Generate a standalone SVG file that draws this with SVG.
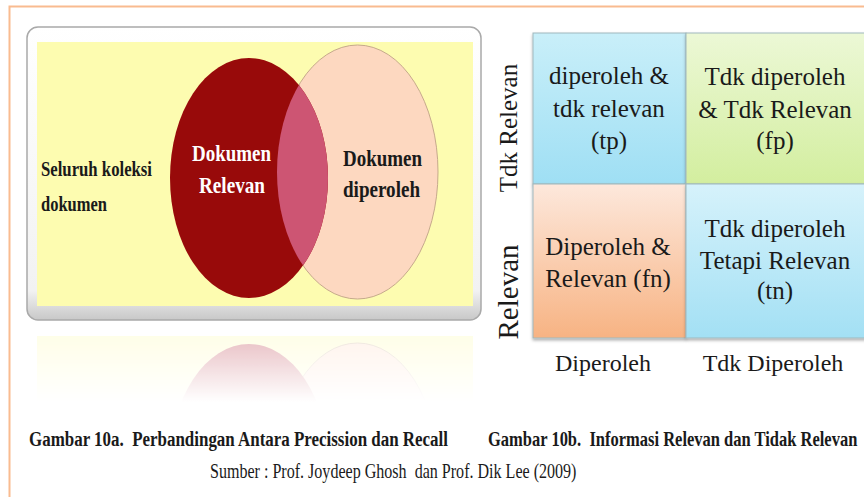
<svg xmlns="http://www.w3.org/2000/svg" width="864" height="497" viewBox="0 0 864 497">
<style>
.serif{font-family:"Liberation Serif","Times New Roman",serif;fill:#1a1a1a}
.cell{font-size:25px;text-anchor:middle}
.venn{font-weight:bold;font-size:22px}
.cap{font-weight:bold;font-size:22px;white-space:pre}
.cellbox{stroke:#9fb8bd;stroke-width:1}
</style>
<defs>
<linearGradient id="gTL" x1="0" y1="0" x2="0" y2="1"><stop offset="0" stop-color="#c9eff9"/><stop offset="1" stop-color="#9fdff4"/></linearGradient>
<linearGradient id="gTR" x1="0" y1="0" x2="0" y2="1"><stop offset="0" stop-color="#ecf8d6"/><stop offset="1" stop-color="#d3ee9f"/></linearGradient>
<linearGradient id="gBL" x1="0" y1="0" x2="0" y2="1"><stop offset="0" stop-color="#fde8dc"/><stop offset="1" stop-color="#f7b383"/></linearGradient>
<linearGradient id="gBR" x1="0" y1="0" x2="0" y2="1"><stop offset="0" stop-color="#d6f2fb"/><stop offset="1" stop-color="#a3e0f4"/></linearGradient>
<linearGradient id="gBox" x1="0" y1="0" x2="0" y2="1"><stop offset="0" stop-color="#ffffff"/><stop offset="0.9" stop-color="#f2f2f2"/><stop offset="1" stop-color="#c8c8c8"/></linearGradient>
<linearGradient id="gFade" x1="0" y1="0" x2="0" y2="1"><stop offset="0" stop-color="#fff" stop-opacity="0.35"/><stop offset="1" stop-color="#fff" stop-opacity="0"/></linearGradient>
<mask id="mFade" maskUnits="userSpaceOnUse" x="0" y="320" width="500" height="90"><rect x="0" y="322" width="500" height="80" fill="url(#gFade)"/></mask>
<clipPath id="cRed"><ellipse cx="249" cy="178" rx="79" ry="120"/></clipPath>
<filter id="sh" x="-5%" y="-5%" width="110%" height="115%"><feDropShadow dx="0" dy="2" stdDeviation="1.5" flood-color="#000" flood-opacity="0.3"/></filter>
</defs>
<rect width="864" height="497" fill="#ffffff"/>
<g id="frame" fill="none" stroke="#f9bb90" stroke-width="2">
<path d="M864 6.5 H9.5 V497"/>
</g>
<g id="venn">
<rect x="27" y="27" width="454" height="293" rx="11" fill="url(#gBox)" stroke="#a9a9a9" stroke-width="1.5"/>
<rect x="37" y="42" width="436" height="264" fill="#fdfcb0"/>
<ellipse cx="357.5" cy="172" rx="80.5" ry="127" fill="#fdd8c0" stroke="#c6a98c" stroke-width="1"/>
<ellipse cx="249" cy="178" rx="79" ry="120" fill="#980a0a"/>
<ellipse cx="357.5" cy="172" rx="80.5" ry="127" fill="#cd5573" clip-path="url(#cRed)"/>
</g>
<g id="reflection" mask="url(#mFade)">
<g transform="translate(0,642) scale(1,-1)">
<rect x="37" y="42" width="436" height="264" fill="#fdfcb0"/>
<ellipse cx="357.5" cy="172" rx="80.5" ry="127" fill="#fdd8c0" stroke="#c6a98c"/>
<ellipse cx="249" cy="178" rx="79" ry="120" fill="#b02030"/>
</g>
</g>
<g id="label-seluruh" class="serif venn">
<text x="41" y="176" textLength="111" lengthAdjust="spacingAndGlyphs">Seluruh koleksi</text>
<text x="41" y="211" textLength="66" lengthAdjust="spacingAndGlyphs">dokumen</text>
</g>
<g id="label-relevan" class="serif venn" style="font-size:24px">
<text x="192" y="161" textLength="79" lengthAdjust="spacingAndGlyphs" style="fill:#ffffff">Dokumen</text>
<text x="199" y="193" textLength="66" lengthAdjust="spacingAndGlyphs" style="fill:#ffffff">Relevan</text>
</g>
<g id="label-diperoleh" class="serif venn" style="font-size:24px">
<text x="343" y="166" textLength="79" lengthAdjust="spacingAndGlyphs">Dokumen</text>
<text x="343" y="197" textLength="77" lengthAdjust="spacingAndGlyphs">diperoleh</text>
</g>
<g id="cell-tp">
<rect class="cellbox" x="533" y="33" width="153" height="151" fill="url(#gTL)" filter="url(#sh)"/>
<text class="serif cell" x="609" y="84">diperoleh &amp;</text>
<text class="serif cell" x="609" y="117">tdk relevan</text>
<text class="serif cell" x="609" y="149">(tp)</text>
</g>
<g id="cell-fp">
<rect class="cellbox" x="686" y="33" width="190" height="151" fill="url(#gTR)" filter="url(#sh)"/>
<text class="serif cell" x="775" y="85">Tdk diperoleh</text>
<text class="serif cell" x="775" y="118">&amp; Tdk Relevan</text>
<text class="serif cell" x="775" y="149">(fp)</text>
</g>
<g id="cell-fn">
<rect class="cellbox" x="533" y="184" width="153" height="154" fill="url(#gBL)" filter="url(#sh)"/>
<text class="serif cell" x="608" y="255">Diperoleh &amp;</text>
<text class="serif cell" x="608" y="287">Relevan (fn)</text>
</g>
<g id="cell-tn">
<rect class="cellbox" x="686" y="184" width="190" height="154" fill="url(#gBR)" filter="url(#sh)"/>
<text class="serif cell" x="775" y="237">Tdk diperoleh</text>
<text class="serif cell" x="775" y="269">Tetapi Relevan</text>
<text class="serif cell" x="775" y="299">(tn)</text>
</g>
<g id="axis-labels" class="serif">
<text transform="translate(517,128) rotate(-90)" text-anchor="middle" style="font-size:25px">Tdk Relevan</text>
<text transform="translate(518,292) rotate(-90)" text-anchor="middle" style="font-size:29px">Relevan</text>
<text x="603" y="371" text-anchor="middle" style="font-size:24px">Diperoleh</text>
<text x="773" y="371" text-anchor="middle" style="font-size:24px">Tdk Diperoleh</text>
</g>
<g id="captions" class="serif">
<text class="cap" transform="translate(29,446) scale(0.77,1)" x="0" y="0">Gambar 10a.  Perbandingan Antara Precission dan Recall</text>
<text class="cap" transform="translate(488,446) scale(0.75,1)" x="0" y="0">Gambar 10b.  Informasi Relevan dan Tidak Relevan</text>
<text transform="translate(210,478) scale(0.73,1)" x="0" y="0" style="font-size:22px;white-space:pre">Sumber : Prof. Joydeep Ghosh  dan Prof. Dik Lee (2009)</text>
</g>
</svg>
